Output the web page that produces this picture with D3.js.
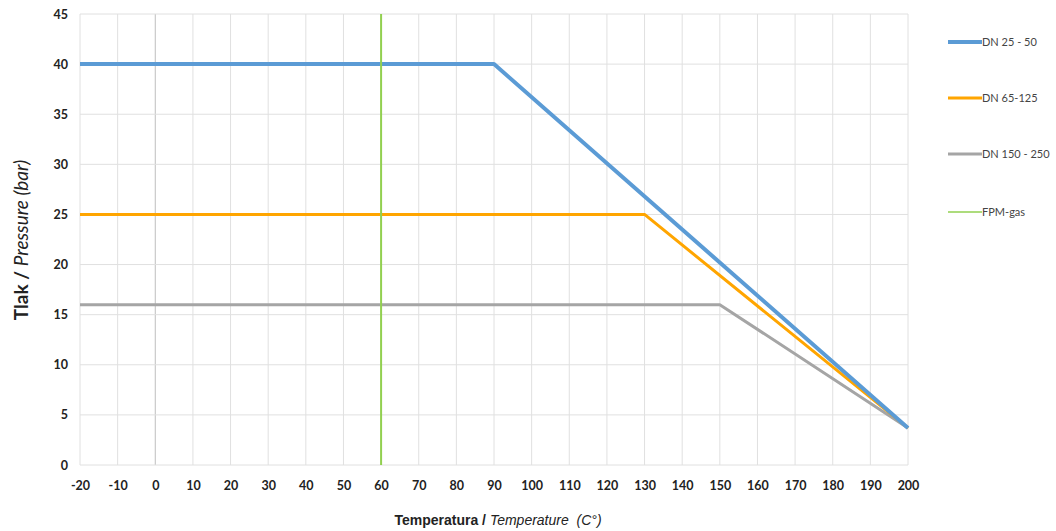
<!DOCTYPE html>
<html><head><meta charset="utf-8">
<script src="https://cdn.jsdelivr.net/npm/d3@7"></script>
<style>body{margin:0;background:#fff;}svg{display:block;font-family:Lato,"Open Sans",sans-serif;}</style>
</head><body><svg id="c" width="1056" height="531"></svg>
<script>
const xTicks = [-20,-10,0,10,20,30,40,50,60,70,80,90,100,110,120,130,140,150,160,170,180,190,200];
const yTicks = [0,5,10,15,20,25,30,35,40,45];
const seriesNames = ["DN 25 - 50","DN 65-125","DN 150 - 250","FPM-gas"];
const dn25_50 = [[-20,40],[90,40],[200,3.7]];
const dn65_125 = [[-20,25],[130,25],[200,3.7]];
const dn150_250 = [[-20,16],[150,16],[200,3.7]];
const fpmGas = [[60,0],[60,45]];
const colors = ["#5B9BD5","#FFA500","#A5A5A5","#92D050"];
const widths = [4,3,3,2];

const svg = d3.select("#c");
const L=80,R=908,T=14,B=465;
const x = d3.scaleLinear().domain([-20,200]).range([L,R]);
const y = d3.scaleLinear().domain([0,45]).range([B,T]);

// grid
svg.append("g").selectAll("line").data(xTicks).join("line")
  .attr("x1",d=>x(d)).attr("x2",d=>x(d)).attr("y1",T).attr("y2",B)
  .attr("stroke",d=>d===0?"#BFBFBF":"#E0E0E0").attr("stroke-width",1);
svg.append("g").selectAll("line").data(yTicks).join("line")
  .attr("x1",L).attr("x2",R).attr("y1",d=>y(d)).attr("y2",d=>y(d))
  .attr("stroke","#E0E0E0").attr("stroke-width",1);

// axes labels
const xa = svg.append("g").attr("transform",`translate(0,${B})`)
  .call(d3.axisBottom(x).tickValues(xTicks).tickFormat(d=>String(d)).tickSize(0).tickPadding(16));
xa.select(".domain").remove();
xa.selectAll("text").attr("font-size",12.5).attr("font-weight","bold").attr("fill","#222").attr("font-family","Lato, sans-serif");
const ya = svg.append("g").attr("transform",`translate(${L},0)`)
  .call(d3.axisLeft(y).tickValues(yTicks).tickFormat(d=>String(d)).tickSize(0).tickPadding(12));
ya.select(".domain").remove();
ya.selectAll("text").attr("font-size",12.5).attr("font-weight","bold").attr("fill","#222").attr("font-family","Lato, sans-serif");

// series
const line = d3.line().x(d=>x(d[0])).y(d=>y(d[1]));
const all=[dn25_50,dn65_125,dn150_250];
[2,1,0].forEach(i=>{
  svg.append("path").attr("d",line(all[i])).attr("fill","none")
    .attr("stroke",colors[i]).attr("stroke-width",widths[i]).attr("stroke-linejoin","round");
});
svg.append("path").attr("d",line(fpmGas)).attr("fill","none").attr("stroke",colors[3]).attr("stroke-width",widths[3]);

// legend
const ly=[42,98,154,212];
seriesNames.forEach((n,i)=>{
  svg.append("line").attr("x1",948).attr("x2",982).attr("y1",ly[i]).attr("y2",ly[i])
    .attr("stroke",colors[i]).attr("stroke-width",i===3?1.5:widths[i]);
  svg.append("text").attr("x",982).attr("y",ly[i]+4).attr("font-size",11).attr("fill","#444")
    .attr("font-family","Lato, sans-serif").text(n);
});

// axis titles
const xt = svg.append("text").attr("x",498).attr("y",525).attr("text-anchor","middle")
  .attr("font-size",14).attr("fill","#222").attr("font-family","Liberation Sans, Arial, sans-serif");
xt.append("tspan").attr("font-weight","bold").text("Temperatura / ");
xt.append("tspan").attr("font-style","italic").text("Temperature \u00A0(C°)");
const yt = svg.append("text").attr("transform","translate(28,240) rotate(-90)").attr("text-anchor","middle")
  .attr("font-size",19).attr("fill","#222").attr("font-family","Lato, sans-serif");
yt.append("tspan").attr("font-weight","bold").text("Tlak / ");
yt.append("tspan").attr("font-style","italic").text("Pressure (bar)");
</script></body></html>
